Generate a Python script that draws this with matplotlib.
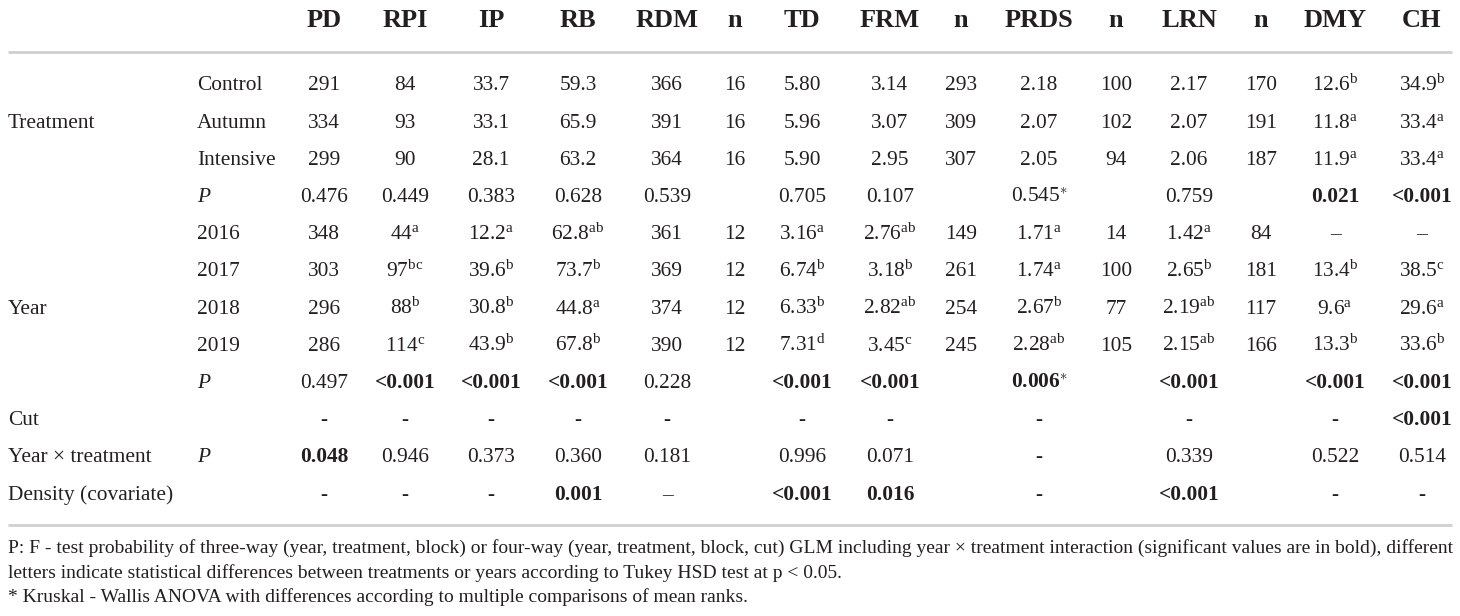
import matplotlib
matplotlib.use('Agg')
import matplotlib.pyplot as plt

plt.rcParams['font.family'] = ['Liberation Serif', 'DejaVu Serif']
plt.rcParams['mathtext.fontset'] = 'custom'
plt.rcParams['mathtext.rm'] = 'Liberation Serif'
plt.rcParams['mathtext.it'] = 'Liberation Serif:italic'
plt.rcParams['mathtext.bf'] = 'Liberation Serif:bold'

INK = '#231f20'

# table content
columns = ['PD', 'RPI', 'IP', 'RB', 'RDM', 'n', 'TD', 'FRM', 'n', 'PRDS', 'n', 'LRN', 'n', 'DMY', 'CH']
group_labels = ['', 'Treatment', '', '', '', '', 'Year', '', '', 'Cut', 'Year \u00d7 treatment', 'Density (covariate)']
row_labels = ['Control', 'Autumn', 'Intensive', 'P', '2016', '2017', '2018', '2019', 'P', '', 'P', '']

# cell text, "^" marks a superscript, leading "!" marks bold
cells = [
    ['291', '84', '33.7', '59.3', '366', '16', '5.80', '3.14', '293', '2.18', '100', '2.17', '170', '12.6^b', '34.9^b'],
    ['334', '93', '33.1', '65.9', '391', '16', '5.96', '3.07', '309', '2.07', '102', '2.07', '191', '11.8^a', '33.4^a'],
    ['299', '90', '28.1', '63.2', '364', '16', '5.90', '2.95', '307', '2.05', '94', '2.06', '187', '11.9^a', '33.4^a'],
    ['0.476', '0.449', '0.383', '0.628', '0.539', '', '0.705', '0.107', '', '0.545^*', '', '0.759', '', '!0.021', '!<0.001'],
    ['348', '44^a', '12.2^a', '62.8^ab', '361', '12', '3.16^a', '2.76^ab', '149', '1.71^a', '14', '1.42^a', '84', '\u2013', '\u2013'],
    ['303', '97^bc', '39.6^b', '73.7^b', '369', '12', '6.74^b', '3.18^b', '261', '1.74^a', '100', '2.65^b', '181', '13.4^b', '38.5^c'],
    ['296', '88^b', '30.8^b', '44.8^a', '374', '12', '6.33^b', '2.82^ab', '254', '2.67^b', '77', '2.19^ab', '117', '9.6^a', '29.6^a'],
    ['286', '114^c', '43.9^b', '67.8^b', '390', '12', '7.31^d', '3.45^c', '245', '2.28^ab', '105', '2.15^ab', '166', '13.3^b', '33.6^b'],
    ['0.497', '!<0.001', '!<0.001', '!<0.001', '0.228', '', '!<0.001', '!<0.001', '', '!0.006^*', '', '!<0.001', '', '!<0.001', '!<0.001'],
    ['-', '-', '-', '-', '-', '', '-', '-', '', '-', '', '-', '', '-', '!<0.001'],
    ['!0.048', '0.946', '0.373', '0.360', '0.181', '', '0.996', '0.071', '', '-', '', '0.339', '', '0.522', '0.514'],
    ['-', '-', '-', '!0.001', '\u2013', '', '!<0.001', '!0.016', '', '-', '', '!<0.001', '', '-', '-'],
]

footnotes = [
    'P: F - test probability of three-way (year, treatment, block) or four-way (year, treatment, block, cut) GLM including year \u00d7 treatment interaction (significant values are in bold), different',
    'letters indicate statistical differences between treatments or years according to Tukey HSD test at p < 0.05.',
    '* Kruskal - Wallis ANOVA with differences according to multiple comparisons of mean ranks.',
]

# layout (pixels)
col_x = [324, 405, 491, 578, 667, 735, 802, 890, 961, 1039, 1116, 1189, 1261, 1335, 1422]
row_y0, row_dy = 83, 37.2
body_fs, head_fs, note_fs = 15.4, 19, 14.0

fig = plt.figure(figsize=(14.6, 6.16), dpi=100)
ax = fig.add_axes([0, 0, 1, 1])
ax.set_xlim(0, 1460)
ax.set_ylim(616, 0)
ax.axis('off')


def cell_text(s):
    bold = s.startswith('!')
    if bold:
        s = s[1:]
    if '^' in s:
        base, sup = s.split('^')
        cmd = r'\mathbf' if bold else r'\mathrm'
        if sup == '*':
            sup_t = r'{\ast}'
        else:
            sup_t = cmd + '{' + sup + '}'
        return '$' + cmd + '{' + base + '}^{' + sup_t + '}$', 'normal'
    return s, 'bold' if bold else 'normal'


for j, name in enumerate(columns):
    ax.text(col_x[j], 27, name, ha='center', va='baseline', fontsize=head_fs,
            fontweight='bold', color=INK)

ax.plot([8, 1452], [52, 52], color='#cfcfcf', lw=2, solid_capstyle='butt')
ax.plot([8, 1452], [524.5, 524.5], color='#cfcfcf', lw=2, solid_capstyle='butt')

for i in range(len(cells)):
    yb = row_y0 + i * row_dy + 7.5
    if group_labels[i]:
        ax.text(8, yb, group_labels[i], ha='left', va='baseline', fontsize=body_fs, color=INK)
    if row_labels[i]:
        st = 'italic' if row_labels[i] == 'P' else 'normal'
        ax.text(197, yb, row_labels[i], ha='left', va='baseline', fontsize=body_fs,
                style=st, color=INK)
    for j, s in enumerate(cells[i]):
        if not s:
            continue
        t, w = cell_text(s)
        ax.text(col_x[j], yb, t, ha='center', va='baseline', fontsize=body_fs,
                fontweight=w, color=INK)

for k, line in enumerate(footnotes):
    ax.text(8, 553 + k * 24.5, line, ha='left', va='baseline', fontsize=note_fs, color=INK)

fig.savefig('out.png', dpi=100, facecolor='white')
